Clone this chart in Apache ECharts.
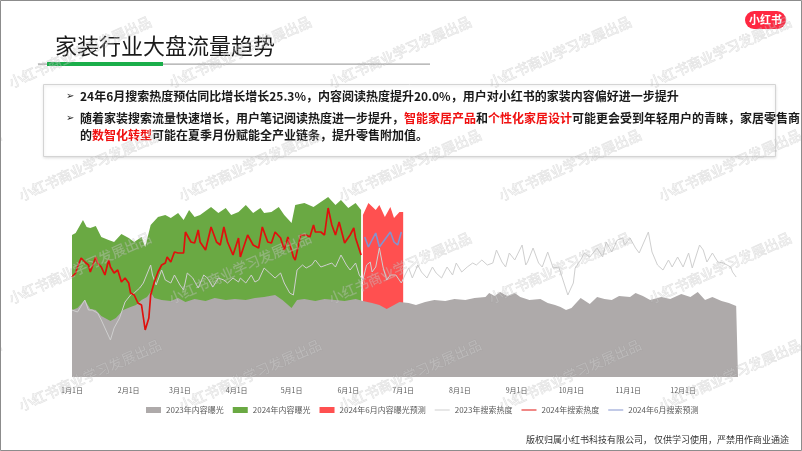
<!DOCTYPE html>
<html><head><meta charset="utf-8">
<script src="https://cdn.jsdelivr.net/npm/echarts@6/dist/echarts.min.js"></script>
<style>html,body{margin:0;padding:0;background:#fff}#c{width:802px;height:451px}</style>
</head><body><div id="c"></div>
<script>
// ---- data (day index from 1月1日, value = relative heat) ----
const monthLengths = [31,28,31,30,31,30,31,31,30,31,30,31];
const seriesNames = ['2023年内容曝光','2024年内容曝光','2024年6月内容曝光预测','2023年搜索热度','2024年搜索热度','2024年6月搜索预测'];

const grey23Days = [0,3,7,10,13,16,21,24,28,32,35,38,41,43,45,49,54,58,62,67,73,78,84,89,95,100,105,111,115,120,123,127,133,138,144,149,155,159,164,168,172,175,179,184,188,193,198,204,209,215,220,226,228,231,234,238,242,245,250,256,260,264,267,270,273,278,283,287,291,295,299,305,308,312,316,322,327,333,338,342,346,350,355,359,363,364];
const grey23Vals = [67,69,77,68,67,61,56,59,67,70,72,77,80,85,79,77,76,79,75,78,76,79,77,78,77,79,80,82,77,69,77,78,76,78,77,76,78,76,74,72,68,71,75,74,72,75,77,76,78,77,79,80,84,81,85,81,84,80,77,78,74,72,70,67,69,79,73,80,78,77,81,80,84,81,77,80,78,83,80,85,77,80,76,74,71,71];

const green24Days = [0,2,6,8,10,13,16,20,23,27,31,34,38,40,43,47,51,54,58,61,64,67,70,76,80,84,87,91,95,99,103,105,109,113,116,120,122,127,132,136,140,144,147,151,155,158];
const green24Vals = [142,144,157,150,149,151,140,137,135,143,139,135,140,130,152,160,162,159,164,157,167,160,162,170,164,169,162,165,172,164,169,164,165,170,162,154,172,174,170,175,180,172,177,169,174,167];

const forecastDays = [159,162,166,168,171,174,176,179,181];
const forecastVals = [162,174,167,172,160,170,159,165,165];

const search23Days = [0,3,7,9,11,14,16,18,21,23,26,29,32,34,37,39,40,43,44,46,49,51,54,56,59,61,63,66,69,72,74,77,80,83,85,88,91,92,95,98,100,102,103,105,108,111,114,116,119,121,123,126,128,131,133,136,139,142,144,147,150,152,155,157,159,161,163,164,166,168,170,172,174,177,180,182,184,186,189,191,194,197,199,202,205,208,210,213,216,219,221,224,227,230,232,235,237,239,242,246,248,249,252,255,257,260,263,266,268,271,274,275,278,280,283,287,290,292,295,298,301,302,305,308,310,315,317,320,323,326,328,331,334,337,339,343,345,347,350,353,356,360,361,363];
const search23Vals = [67,65,77,67,67,64,57,49,37,49,59,75,82,84,89,94,92,112,102,92,107,97,94,102,92,87,104,99,89,102,99,90,99,97,94,99,95,99,94,102,95,97,95,109,104,99,104,94,84,82,107,112,109,112,117,110,112,114,110,122,112,107,114,102,97,112,115,105,110,129,110,97,102,102,94,102,109,99,112,105,99,110,104,99,110,102,114,105,110,114,112,117,112,114,127,115,110,124,117,132,112,115,129,114,110,125,109,110,99,82,94,109,117,124,120,129,120,135,125,137,139,132,139,129,124,145,125,112,107,117,110,120,110,124,109,132,127,115,124,115,114,110,105,100];

const search24Days = [0,2,3,5,7,9,10,13,14,16,18,20,21,23,25,27,29,31,32,34,36,38,40,42,43,45,47,49,51,52,54,56,58,61,62,65,67,69,70,73,76,79,81,83,85,88,91,92,96,99,102,104,107,109,111,114,116,118,121,122,125,128,130,132,133,136,138,140,142,144,146,149,152,154,155,158];
const search24Vals = [100,104,110,119,115,112,105,120,114,110,102,117,110,104,107,95,99,94,84,82,74,72,47,59,82,95,105,112,114,120,115,125,124,124,145,135,134,147,135,127,150,135,132,150,135,122,139,120,142,132,129,150,135,134,145,139,127,140,120,117,142,142,140,152,145,145,142,169,152,142,155,134,142,149,139,122];

const searchFcDays = [160,162,166,168,174,176,178,180];
const searchFcVals = [140,130,144,130,145,135,132,145];

// ---- build ----
const categories = [];
monthLengths.forEach((n, m) => { for (let d = 1; d <= n; d++) categories.push((m + 1) + '月' + d + '日'); });
const pairs = (days, vals) => days.map((d, i) => [d, vals[i]]);

const FONT = '"Noto Sans CJK SC", "Noto Sans", sans-serif';
const chart = echarts.init(document.getElementById('c'), null, {renderer: 'canvas'});

const watermarks = [];
const wmRows = [52, 165, 268, 375];
wmRows.forEach((y, r) => {
  for (let c = -1; c < 6; c++) {
    watermarks.push({
      type: 'text', x: 80 + 160 * c + (r % 2) * 10, y: y, rotation: 24 * Math.PI / 180, z: 200, silent: true,
      style: {text: '小红书商业学习发展出品', fontSize: 14, fontFamily: FONT, fill: 'rgba(255,255,255,0.22)',
              stroke: 'rgba(150,150,150,0.28)', lineWidth: 0.8, align: 'center', verticalAlign: 'middle'}
    });
  }
});

const option = {
  animation: false,
  backgroundColor: '#ffffff',
  textStyle: {fontFamily: FONT},
  grid: {left: 72, right: 64, top: 177, bottom: 74, containLabel: false},
  xAxis: {
    type: 'category', data: categories, boundaryGap: false,
    axisLine: {show: false}, axisTick: {show: false}, splitLine: {show: false},
    axisLabel: {
      interval: (idx, val) => /月1日$/.test(val) && !/月[123]1日$/.test(val),
      fontSize: 7, color: '#595959', margin: 10
    }
  },
  yAxis: {type: 'value', min: 0, max: 200, show: false},
  legend: {
    left: 146, top: 406, padding: 0, itemWidth: 15, itemHeight: 6, itemGap: 9,
    textStyle: {fontSize: 8, color: '#595959', fontFamily: FONT},
    data: [
      {name: seriesNames[0], icon: 'rect'},
      {name: seriesNames[1], icon: 'rect'},
      {name: seriesNames[2], icon: 'rect'},
      {name: seriesNames[3], icon: 'path://M0,0 L30,0 L30,2 L0,2 Z'},
      {name: seriesNames[4], icon: 'path://M0,0 L30,0 L30,2 L0,2 Z'},
      {name: seriesNames[5], icon: 'path://M0,0 L30,0 L30,2 L0,2 Z'}
    ]
  },
  series: [
    {name: seriesNames[1], type: 'line', data: pairs(green24Days, green24Vals), symbol: 'none',
     lineStyle: {width: 0}, areaStyle: {color: '#6aa943', opacity: 1}, itemStyle: {color: '#6aa943'}, z: 2},
    {name: seriesNames[2], type: 'line', data: pairs(forecastDays, forecastVals), symbol: 'none',
     lineStyle: {width: 0}, areaStyle: {color: '#ff5050', opacity: 1}, itemStyle: {color: '#ff5050'}, z: 2},
    {name: seriesNames[0], type: 'line', data: pairs(grey23Days, grey23Vals), symbol: 'none',
     lineStyle: {width: 0}, areaStyle: {color: '#aeaaaa', opacity: 1}, itemStyle: {color: '#aeaaaa'}, z: 3},
    {name: seriesNames[3], type: 'line', data: pairs(search23Days, search23Vals), symbol: 'none',
     lineStyle: {width: 1, color: '#cfcfcf'}, itemStyle: {color: '#cfcfcf'}, z: 4},
    {name: seriesNames[4], type: 'line', data: pairs(search24Days, search24Vals), symbol: 'none',
     lineStyle: {width: 1.7, color: '#e0100c'}, itemStyle: {color: '#e0100c'}, z: 5},
    {name: seriesNames[5], type: 'line', data: pairs(searchFcDays, searchFcVals), symbol: 'none',
     lineStyle: {width: 1.6, color: '#8494cf'}, itemStyle: {color: '#8494cf'}, z: 5}
  ],
  graphic: [
    {type: 'rect', shape: {x: 0.5, y: 0.5, width: 801, height: 450}, style: {fill: 'none', stroke: '#8c8c8c', lineWidth: 1}, z: 300, silent: true},
    {type: 'text', x: 55, y: 46, style: {text: '家装行业大盘流量趋势', fontSize: 22, fontFamily: FONT, fill: '#1a1a1a', verticalAlign: 'middle'}, z: 10},
    {type: 'rect', shape: {x: 38, y: 63.5, width: 392, height: 1.2}, style: {fill: '#a6a6a6'}, z: 10},
    {type: 'rect', shape: {x: 47, y: 62, width: 116, height: 4}, style: {fill: '#1aae4a'}, z: 11},
    {type: 'rect', shape: {x: 43.5, y: 84.5, width: 732, height: 72}, style: {fill: '#ffffff', stroke: '#d4d4d4', lineWidth: 1, shadowBlur: 3, shadowColor: 'rgba(0,0,0,0.12)', shadowOffsetY: 1}, z: 5},
    {type: 'text', x: 66, y: 96, style: {text: '➢', fontSize: 10, fontFamily: '"DejaVu Sans"', fill: '#222', verticalAlign: 'middle'}, z: 10},
    {type: 'text', x: 66, y: 118, style: {text: '➢', fontSize: 10, fontFamily: '"DejaVu Sans"', fill: '#222', verticalAlign: 'middle'}, z: 10},
    {type: 'text', x: 80, y: 96, style: {text: '24年6月搜索热度预估同比增长增长25.3%，内容阅读热度提升20.0%，用户对小红书的家装内容偏好进一步提升',
      fontSize: 12, fontWeight: 'bold', fontFamily: FONT, fill: '#1a1a1a', verticalAlign: 'middle'}, z: 10},
    {type: 'text', x: 80, y: 118, style: {text: '随着家装搜索流量快速增长，用户笔记阅读热度进一步提升，{r|智能家居产品}和{r|个性化家居设计}可能更会受到年轻用户的青睐，家居零售商',
      fontSize: 12, fontWeight: 'bold', fontFamily: FONT, fill: '#1a1a1a', verticalAlign: 'middle',
      rich: {r: {fill: '#f01010', fontSize: 12, fontWeight: 'bold', fontFamily: FONT}}}, z: 10},
    {type: 'text', x: 80, y: 135, style: {text: '的{r|数智化转型}可能在夏季月份赋能全产业链条，提升零售附加值。',
      fontSize: 12, fontWeight: 'bold', fontFamily: FONT, fill: '#1a1a1a', verticalAlign: 'middle',
      rich: {r: {fill: '#f01010', fontSize: 12, fontWeight: 'bold', fontFamily: FONT}}}, z: 10},
    {type: 'rect', shape: {x: 745, y: 11, width: 41, height: 18, r: 9}, style: {fill: '#ff2741'}, z: 10},
    {type: 'text', x: 765.5, y: 20, style: {text: '小红书', fontSize: 11, fontWeight: 'bold', fontFamily: FONT, fill: '#ffffff', align: 'center', verticalAlign: 'middle'}, z: 11},
    {type: 'text', x: 789, y: 440, style: {text: '版权归属小红书科技有限公司， 仅供学习使用，严禁用作商业通途', fontSize: 9, fontFamily: FONT, fill: '#333333', align: 'right', verticalAlign: 'middle'}, z: 10}
  ].concat(watermarks)
};
chart.setOption(option);
</script>
</body></html>
